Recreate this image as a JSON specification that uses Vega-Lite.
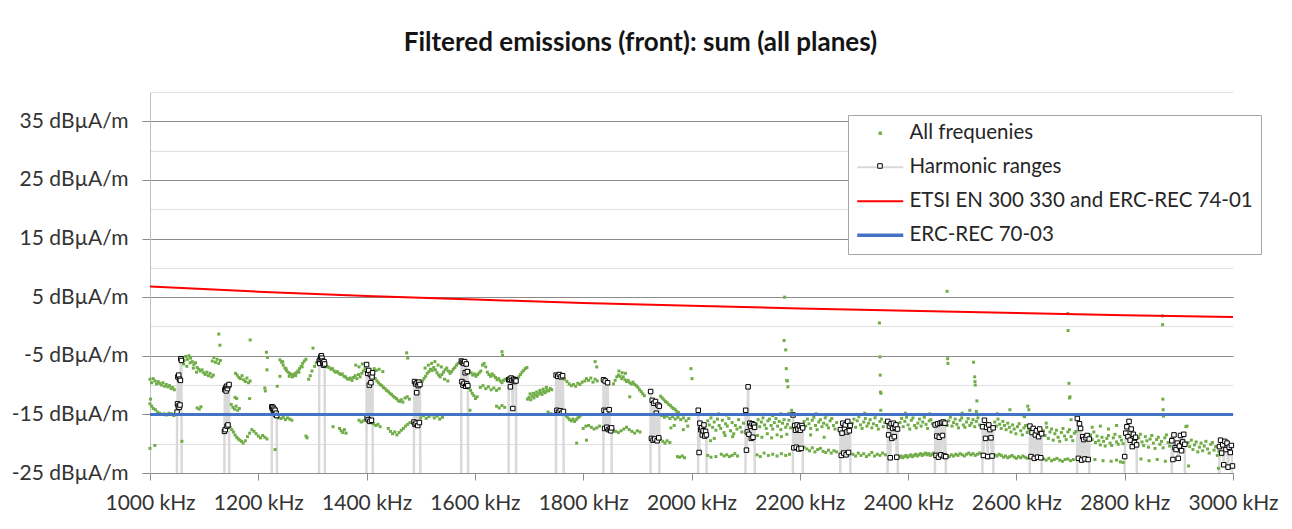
{
  "$schema": "https://vega.github.io/schema/vega-lite/v6.json",
  "width": 1083,
  "height": 381,
  "autosize": {"type": "none"},
  "padding": {"left": 150, "top": 92, "right": 59, "bottom": 56},
  "background": "#ffffff",
  "title": {
    "text": "Filtered emissions (front): sum (all planes)",
    "font": "Lato", "fontSize": 26, "fontWeight": "bold", "color": "#141414",
    "anchor": "middle", "frame": "group", "dx": -51, "offset": 15, "baseline": "alphabetic"
  },
  "config": {
    "view": {"stroke": null},
    "axis": {"labelFont": "Lato", "labelFontSize": 21, "labelColor": "#333333", "title": null}
  },
  "datasets": {
    "pts": [
      {"f":1000,"v":-9.0},{"f":1003,"v":-9.6},{"f":1006,"v":-8.9},{"f":1009,"v":-9.3},{"f":1012,"v":-9.8},{"f":1015,"v":-9.4},{"f":1018,"v":-9.7},{"f":1021,"v":-10.0},{"f":1024,"v":-9.6},{"f":1027,"v":-10.2},{"f":1030,"v":-9.9},{"f":1033,"v":-10.3},{"f":1036,"v":-10.1},{"f":1039,"v":-10.6},{"f":1042,"v":-10.4},{"f":1045,"v":-10.8},
      {"f":1000,"v":-13.2},{"f":1003,"v":-13.6},{"f":1006,"v":-14.0},{"f":1010,"v":-14.2},{"f":1014,"v":-14.6},{"f":1018,"v":-14.8},{"f":1022,"v":-15.0},{"f":1026,"v":-14.9},{"f":1030,"v":-15.1},{"f":1035,"v":-14.8},{"f":1040,"v":-14.9},{"f":1044,"v":-15.2},
      {"f":1000,"v":-20.8},{"f":1009,"v":-20.3},{"f":1001,"v":-12.4},
      {"f":1060,"v":-5.3},{"f":1063,"v":-5.8},{"f":1066,"v":-5.1},{"f":1069,"v":-5.6},{"f":1072,"v":-5.0},{"f":1075,"v":-5.4},{"f":1078,"v":-6.0},{"f":1081,"v":-6.5},{"f":1084,"v":-6.2},{"f":1087,"v":-7.0},{"f":1090,"v":-7.3},{"f":1093,"v":-7.6},{"f":1096,"v":-7.4},{"f":1099,"v":-7.9},{"f":1102,"v":-8.2},{"f":1105,"v":-7.8},{"f":1108,"v":-8.4},{"f":1111,"v":-8.0},{"f":1114,"v":-8.6},{"f":1117,"v":-8.3},
      {"f":1062,"v":-6.4},{"f":1068,"v":-6.8},{"f":1074,"v":-6.2},{"f":1080,"v":-7.1},{"f":1086,"v":-7.8},
      {"f":1115,"v":-5.9},{"f":1118,"v":-5.3},{"f":1121,"v":-6.1},{"f":1124,"v":-5.6},{"f":1127,"v":-6.3},{"f":1130,"v":-5.8},
      {"f":1127,"v":-1.3},{"f":1129,"v":-3.2},{"f":1059,"v":-19.6},{"f":1087,"v":-13.9},{"f":1091,"v":-14.1},{"f":1094,"v":-13.7},
      {"f":1158,"v":-8.0},{"f":1161,"v":-8.3},{"f":1164,"v":-8.7},{"f":1167,"v":-8.9},{"f":1170,"v":-8.4},{"f":1173,"v":-9.1},{"f":1176,"v":-9.4},{"f":1179,"v":-8.8},{"f":1182,"v":-9.6},{"f":1185,"v":-9.3},
      {"f":1150,"v":-13.3},{"f":1153,"v":-13.8},{"f":1156,"v":-14.1},{"f":1159,"v":-13.6},{"f":1162,"v":-14.3},{"f":1165,"v":-14.0},{"f":1160,"v":-12.3},{"f":1157,"v":-12.1},
      {"f":1148,"v":-17.2},{"f":1151,"v":-17.6},{"f":1154,"v":-18.0},{"f":1157,"v":-18.5},{"f":1160,"v":-18.9},{"f":1163,"v":-19.2},{"f":1166,"v":-19.4},{"f":1169,"v":-19.6},{"f":1172,"v":-19.9},{"f":1176,"v":-19.5},{"f":1180,"v":-18.8},{"f":1184,"v":-18.2},{"f":1188,"v":-17.6},{"f":1192,"v":-17.9},{"f":1196,"v":-18.3},{"f":1200,"v":-18.7},{"f":1204,"v":-19.0},{"f":1208,"v":-18.6},{"f":1212,"v":-18.9},{"f":1216,"v":-19.2},
      {"f":1185,"v":-2.3},{"f":1184,"v":-12.3},{"f":1215,"v":-4.4},{"f":1217,"v":-5.3},{"f":1216,"v":-7.4},{"f":1212,"v":-10.5},{"f":1213,"v":-11.0},{"f":1231,"v":-21.0},
      {"f":1240,"v":-5.7},{"f":1243,"v":-6.1},{"f":1246,"v":-6.6},{"f":1249,"v":-7.1},{"f":1252,"v":-7.5},{"f":1255,"v":-7.8},{"f":1258,"v":-8.0},{"f":1261,"v":-8.2},{"f":1264,"v":-8.3},{"f":1267,"v":-8.1},{"f":1270,"v":-7.9},{"f":1273,"v":-7.6},{"f":1276,"v":-7.2},{"f":1279,"v":-6.8},{"f":1282,"v":-6.3},{"f":1285,"v":-5.9},{"f":1288,"v":-5.6},
      {"f":1245,"v":-6.0},{"f":1251,"v":-7.2},{"f":1257,"v":-8.5},{"f":1263,"v":-8.6},{"f":1269,"v":-8.4},{"f":1275,"v":-7.8},{"f":1281,"v":-6.9},
      {"f":1240,"v":-8.5},{"f":1235,"v":-10.2},
      {"f":1237,"v":-15.6},{"f":1242,"v":-15.7},{"f":1246,"v":-15.5},{"f":1250,"v":-15.9},{"f":1254,"v":-15.6},{"f":1258,"v":-15.8},{"f":1262,"v":-16.0},
      {"f":1288,"v":-18.7},{"f":1290,"v":-19.0},
      {"f":1293,"v":-9.0},{"f":1296,"v":-8.4},{"f":1299,"v":-7.6},{"f":1301,"v":-3.7},{"f":1304,"v":-6.8},{"f":1307,"v":-6.2},
      {"f":1325,"v":-6.6},{"f":1328,"v":-6.9},{"f":1331,"v":-7.0},{"f":1334,"v":-7.3},{"f":1337,"v":-7.2},{"f":1340,"v":-7.6},{"f":1343,"v":-7.8},{"f":1346,"v":-7.7},{"f":1349,"v":-8.0},{"f":1352,"v":-8.2},{"f":1355,"v":-8.1},{"f":1358,"v":-8.5},{"f":1361,"v":-8.6},{"f":1364,"v":-8.9},{"f":1367,"v":-9.0},{"f":1370,"v":-8.8},{"f":1373,"v":-9.2},{"f":1376,"v":-8.7},{"f":1379,"v":-8.4},{"f":1382,"v":-8.9},{"f":1385,"v":-8.2},{"f":1388,"v":-8.6},{"f":1391,"v":-8.0},{"f":1394,"v":-7.6},{"f":1397,"v":-7.2},
      {"f":1380,"v":-6.6},{"f":1386,"v":-6.9},{"f":1392,"v":-6.4},
      {"f":1350,"v":-17.4},{"f":1353,"v":-17.8},{"f":1356,"v":-18.1},{"f":1359,"v":-17.6},{"f":1362,"v":-18.2},{"f":1338,"v":-17.1},
      {"f":1386,"v":-16.0},{"f":1390,"v":-16.3},{"f":1394,"v":-16.1},
      {"f":1413,"v":-8.6},{"f":1416,"v":-8.9},{"f":1419,"v":-9.3},{"f":1422,"v":-9.6},{"f":1425,"v":-9.9},{"f":1428,"v":-10.1},{"f":1431,"v":-10.4},{"f":1434,"v":-10.6},{"f":1437,"v":-10.9},{"f":1440,"v":-11.1},{"f":1443,"v":-11.4},{"f":1446,"v":-11.6},{"f":1449,"v":-11.9},{"f":1452,"v":-12.1},{"f":1455,"v":-12.3},{"f":1458,"v":-12.6},{"f":1461,"v":-12.8},{"f":1464,"v":-12.5},{"f":1467,"v":-12.9},{"f":1471,"v":-12.2},{"f":1475,"v":-12.0},{"f":1479,"v":-12.4},
      {"f":1414,"v":-7.2},{"f":1418,"v":-7.5},{"f":1423,"v":-7.3},{"f":1430,"v":-7.7},
      {"f":1413,"v":-16.6},{"f":1417,"v":-16.9},{"f":1421,"v":-16.7},{"f":1425,"v":-17.1},{"f":1440,"v":-17.4},{"f":1444,"v":-17.9},{"f":1448,"v":-18.3},{"f":1452,"v":-18.0},{"f":1456,"v":-18.5},{"f":1460,"v":-18.1},{"f":1464,"v":-17.7},{"f":1468,"v":-17.4},{"f":1472,"v":-17.0},{"f":1476,"v":-16.7},{"f":1480,"v":-16.4},
      {"f":1474,"v":-4.5},{"f":1476,"v":-5.4},
      {"f":1500,"v":-9.8},{"f":1503,"v":-9.3},{"f":1506,"v":-8.9},{"f":1509,"v":-8.5},{"f":1512,"v":-8.0},{"f":1515,"v":-7.7},{"f":1518,"v":-7.3},{"f":1521,"v":-7.5},{"f":1524,"v":-7.0},{"f":1527,"v":-7.4},{"f":1530,"v":-7.9},{"f":1533,"v":-8.3},{"f":1536,"v":-8.6},{"f":1539,"v":-8.2},{"f":1542,"v":-7.8},{"f":1545,"v":-7.4},{"f":1548,"v":-7.1},{"f":1551,"v":-7.6},{"f":1554,"v":-8.0},{"f":1557,"v":-7.7},{"f":1560,"v":-7.3},{"f":1563,"v":-7.0},{"f":1566,"v":-6.6},{"f":1569,"v":-6.3},
      {"f":1508,"v":-7.1},{"f":1514,"v":-6.6},{"f":1520,"v":-6.3},{"f":1526,"v":-6.0},{"f":1532,"v":-6.6},{"f":1538,"v":-6.9},{"f":1544,"v":-9.0},{"f":1550,"v":-9.3},
      {"f":1500,"v":-15.6},{"f":1505,"v":-15.2},{"f":1510,"v":-15.7},{"f":1515,"v":-15.4},{"f":1520,"v":-15.1},{"f":1525,"v":-15.6},{"f":1530,"v":-15.3},{"f":1535,"v":-15.8},{"f":1540,"v":-15.5},
      {"f":1590,"v":-7.6},{"f":1593,"v":-7.9},{"f":1596,"v":-8.3},{"f":1599,"v":-8.1},{"f":1602,"v":-8.5},{"f":1605,"v":-8.2},{"f":1608,"v":-7.9},{"f":1611,"v":-7.6},{"f":1614,"v":-6.6},{"f":1617,"v":-6.3},{"f":1620,"v":-6.9},{"f":1623,"v":-7.8},{"f":1626,"v":-8.2},{"f":1629,"v":-8.5},{"f":1632,"v":-8.1},{"f":1635,"v":-8.4},{"f":1638,"v":-8.7},{"f":1641,"v":-9.1},{"f":1644,"v":-8.9},{"f":1647,"v":-9.3},{"f":1650,"v":-9.6},{"f":1653,"v":-9.2},{"f":1656,"v":-9.0},
      {"f":1589,"v":-10.5},{"f":1592,"v":-10.9},{"f":1595,"v":-11.4},{"f":1598,"v":-11.8},{"f":1601,"v":-12.3},{"f":1604,"v":-12.0},
      {"f":1610,"v":-10.4},{"f":1615,"v":-10.1},{"f":1620,"v":-10.6},{"f":1625,"v":-10.3},{"f":1630,"v":-10.8},{"f":1635,"v":-10.5},{"f":1640,"v":-10.9},{"f":1645,"v":-10.6},
      {"f":1640,"v":-13.6},{"f":1645,"v":-13.9},{"f":1650,"v":-13.5},{"f":1655,"v":-13.8},
      {"f":1591,"v":-14.3},{"f":1650,"v":-4.3},{"f":1651,"v":-4.9},
      {"f":1678,"v":-8.9},{"f":1681,"v":-8.6},{"f":1684,"v":-8.2},{"f":1687,"v":-7.8},{"f":1690,"v":-7.5},{"f":1693,"v":-7.2},{"f":1696,"v":-7.0},
      {"f":1697,"v":-12.4},{"f":1700,"v":-12.1},{"f":1703,"v":-12.5},{"f":1706,"v":-11.9},{"f":1709,"v":-12.2},{"f":1712,"v":-11.7},{"f":1715,"v":-11.9},{"f":1718,"v":-11.5},{"f":1721,"v":-11.3},{"f":1724,"v":-11.6},{"f":1727,"v":-11.1},{"f":1730,"v":-11.3},{"f":1733,"v":-10.9},{"f":1736,"v":-11.0},{"f":1739,"v":-10.6},{"f":1742,"v":-10.8},
      {"f":1702,"v":-11.5},{"f":1708,"v":-11.4},{"f":1714,"v":-11.2},{"f":1720,"v":-10.9},{"f":1726,"v":-10.7},{"f":1732,"v":-10.4},{"f":1735,"v":-14.6},{"f":1740,"v":-14.9},
      {"f":1766,"v":-14.9},{"f":1769,"v":-15.3},{"f":1772,"v":-15.6},{"f":1775,"v":-15.9},{"f":1778,"v":-16.1},{"f":1781,"v":-15.8},{"f":1784,"v":-16.2},{"f":1787,"v":-15.9},{"f":1790,"v":-15.6},{"f":1793,"v":-15.4},{"f":1796,"v":-15.1},
      {"f":1766,"v":-9.0},{"f":1770,"v":-9.4},{"f":1774,"v":-9.8},{"f":1778,"v":-10.1},{"f":1782,"v":-9.9},{"f":1786,"v":-10.2},{"f":1790,"v":-9.7},{"f":1794,"v":-9.9},{"f":1798,"v":-9.5},{"f":1803,"v":-9.3},{"f":1806,"v":-8.9},{"f":1810,"v":-9.2},{"f":1814,"v":-8.8},{"f":1818,"v":-9.5},{"f":1822,"v":-9.0},{"f":1826,"v":-9.3},
      {"f":1788,"v":-19.9},{"f":1806,"v":-19.4},{"f":1822,"v":-6.0},{"f":1825,"v":-6.9},
      {"f":1800,"v":-17.4},{"f":1805,"v":-17.0},{"f":1810,"v":-16.9},{"f":1815,"v":-17.2},{"f":1820,"v":-17.5},{"f":1825,"v":-17.3},{"f":1830,"v":-17.0},
      {"f":1856,"v":-9.8},{"f":1859,"v":-9.2},{"f":1862,"v":-8.6},{"f":1865,"v":-8.3},{"f":1868,"v":-8.5},{"f":1871,"v":-8.9},{"f":1874,"v":-8.6},{"f":1877,"v":-9.1},{"f":1880,"v":-9.4},{"f":1883,"v":-9.2},{"f":1886,"v":-9.6},{"f":1889,"v":-9.8},{"f":1892,"v":-9.5},{"f":1895,"v":-9.9},{"f":1898,"v":-10.1},
      {"f":1866,"v":-7.6},{"f":1872,"v":-7.9},{"f":1878,"v":-8.0},
      {"f":1901,"v":-10.4},{"f":1904,"v":-10.8},{"f":1907,"v":-11.1},{"f":1910,"v":-11.5},{"f":1913,"v":-11.8},
      {"f":1856,"v":-17.7},{"f":1860,"v":-17.9},{"f":1865,"v":-18.1},{"f":1870,"v":-17.8},{"f":1875,"v":-17.5},{"f":1880,"v":-17.2},{"f":1885,"v":-17.6},{"f":1890,"v":-17.9},{"f":1895,"v":-18.2},{"f":1900,"v":-17.8},
      {"f":1886,"v":-12.0},{"f":1905,"v":-18.0},
      {"f":1943,"v":-11.9},{"f":1946,"v":-12.2},{"f":1949,"v":-12.5},{"f":1952,"v":-12.8},{"f":1955,"v":-13.0},{"f":1958,"v":-13.3},{"f":1961,"v":-13.5},{"f":1964,"v":-13.8},{"f":1967,"v":-14.0},{"f":1970,"v":-14.2},{"f":1973,"v":-14.5},{"f":1976,"v":-14.7},
      {"f":1945,"v":-15.2},{"f":1950,"v":-15.5},{"f":1955,"v":-15.3},{"f":1960,"v":-15.7},{"f":1965,"v":-15.4},{"f":1970,"v":-15.8},{"f":1975,"v":-15.5},{"f":1980,"v":-15.9},{"f":1985,"v":-15.6},{"f":1990,"v":-16.1},{"f":1995,"v":-15.7},
      {"f":1943,"v":-19.2},{"f":1947,"v":-19.6},{"f":1951,"v":-19.9},{"f":1955,"v":-19.5},{"f":1960,"v":-19.8},
      {"f":1974,"v":-22.2},{"f":1978,"v":-22.3},{"f":1983,"v":-22.1},{"f":1987,"v":-22.4},
      {"f":1962,"v":-17.3},{"f":1968,"v":-16.9},{"f":1985,"v":-17.6},{"f":1993,"v":-17.0},
      {"f":1999,"v":-7.2},{"f":2001,"v":-8.9},
      {"f":2030,"v":-16.1},{"f":2033,"v":-16.8},{"f":2036,"v":-15.6},{"f":2039,"v":-17.2},{"f":2042,"v":-16.3},{"f":2045,"v":-17.7},{"f":2048,"v":-15.8},{"f":2051,"v":-16.9},{"f":2054,"v":-17.4},{"f":2057,"v":-16.0},{"f":2060,"v":-18.1},{"f":2063,"v":-16.6},{"f":2066,"v":-17.0},{"f":2069,"v":-15.7},{"f":2072,"v":-17.8},{"f":2075,"v":-16.4},{"f":2078,"v":-18.3},{"f":2081,"v":-16.9},{"f":2084,"v":-17.5},{"f":2087,"v":-15.9},{"f":2090,"v":-17.2},{"f":2093,"v":-18.0},{"f":2096,"v":-16.5},
      {"f":2035,"v":-15.0},{"f":2050,"v":-14.9},{"f":2065,"v":-15.1},
      {"f":2030,"v":-22.0},{"f":2036,"v":-22.3},{"f":2045,"v":-22.2},{"f":2055,"v":-21.8},{"f":2060,"v":-22.1},{"f":2065,"v":-21.9},{"f":2070,"v":-22.2},{"f":2075,"v":-22.0},{"f":2080,"v":-21.7},{"f":2085,"v":-22.1},
      {"f":2035,"v":-19.5},{"f":2042,"v":-19.1},{"f":2062,"v":-18.6},{"f":2076,"v":-18.8},
      {"f":2120,"v":-16.6},{"f":2123,"v":-15.9},{"f":2126,"v":-17.1},{"f":2129,"v":-16.3},{"f":2132,"v":-15.6},{"f":2135,"v":-16.8},{"f":2138,"v":-17.4},{"f":2141,"v":-16.1},{"f":2144,"v":-15.8},{"f":2147,"v":-16.9},{"f":2150,"v":-17.5},{"f":2153,"v":-16.4},{"f":2156,"v":-15.7},{"f":2159,"v":-17.0},{"f":2162,"v":-16.2},{"f":2165,"v":-17.6},{"f":2168,"v":-16.5},{"f":2171,"v":-15.9},{"f":2174,"v":-17.2},{"f":2177,"v":-16.7},{"f":2180,"v":-16.0},{"f":2183,"v":-17.3},
      {"f":2122,"v":-18.6},{"f":2130,"v":-18.9},{"f":2140,"v":-18.3},{"f":2148,"v":-19.0},{"f":2158,"v":-18.5},{"f":2166,"v":-18.8},{"f":2176,"v":-18.4},
      {"f":2121,"v":-21.9},{"f":2127,"v":-22.2},{"f":2134,"v":-21.6},{"f":2142,"v":-22.0},{"f":2150,"v":-21.8},{"f":2158,"v":-22.1},{"f":2166,"v":-21.7},{"f":2174,"v":-22.0},{"f":2181,"v":-21.8},
      {"f":2135,"v":-15.0},{"f":2150,"v":-15.2},{"f":2165,"v":-14.9},{"f":2180,"v":-14.8},
      {"f":2172,"v":5.0},{"f":2171,"v":-2.4},{"f":2174,"v":-4.0},{"f":2175,"v":-7.2},{"f":2176,"v":-9.2},{"f":2177,"v":-9.3},{"f":2178,"v":-10.3},{"f":2185,"v":-14.3},
      {"f":2208,"v":-16.2},{"f":2211,"v":-17.0},{"f":2214,"v":-15.8},{"f":2217,"v":-16.6},{"f":2220,"v":-17.4},{"f":2223,"v":-16.0},{"f":2226,"v":-15.5},{"f":2229,"v":-16.9},{"f":2232,"v":-17.6},{"f":2235,"v":-16.3},{"f":2238,"v":-15.9},{"f":2241,"v":-17.1},{"f":2244,"v":-16.5},{"f":2247,"v":-15.6},{"f":2250,"v":-16.8},{"f":2253,"v":-17.3},{"f":2256,"v":-16.1},{"f":2259,"v":-15.7},{"f":2262,"v":-16.9},{"f":2265,"v":-17.5},{"f":2268,"v":-16.4},
      {"f":2208,"v":-20.6},{"f":2213,"v":-20.9},{"f":2218,"v":-21.2},{"f":2223,"v":-20.7},{"f":2228,"v":-21.4},{"f":2233,"v":-21.0},{"f":2238,"v":-20.8},{"f":2243,"v":-21.3},{"f":2248,"v":-21.5},{"f":2253,"v":-21.1},{"f":2258,"v":-21.6},{"f":2263,"v":-21.2},{"f":2268,"v":-21.4},
      {"f":2215,"v":-15.0},{"f":2230,"v":-14.9},{"f":2250,"v":-15.1},{"f":2220,"v":-18.5},{"f":2245,"v":-18.9},
      {"f":2297,"v":-16.5},{"f":2300,"v":-15.8},{"f":2303,"v":-17.2},{"f":2306,"v":-16.1},{"f":2309,"v":-15.4},{"f":2312,"v":-16.8},{"f":2315,"v":-17.4},{"f":2318,"v":-16.3},{"f":2321,"v":-15.7},{"f":2324,"v":-17.0},{"f":2327,"v":-16.5},{"f":2330,"v":-15.9},{"f":2333,"v":-17.3},{"f":2336,"v":-16.6},{"f":2339,"v":-15.6},{"f":2342,"v":-16.9},{"f":2345,"v":-17.5},{"f":2348,"v":-16.2},{"f":2351,"v":-15.8},{"f":2354,"v":-17.1},{"f":2357,"v":-16.4},
      {"f":2298,"v":-21.8},{"f":2303,"v":-22.1},{"f":2308,"v":-21.6},{"f":2313,"v":-22.0},{"f":2318,"v":-21.7},{"f":2323,"v":-22.2},{"f":2328,"v":-21.9},{"f":2333,"v":-21.5},{"f":2338,"v":-22.1},{"f":2343,"v":-21.8},{"f":2348,"v":-22.0},{"f":2353,"v":-21.6},{"f":2358,"v":-21.9},
      {"f":2305,"v":-15.0},{"f":2320,"v":-14.8},{"f":2340,"v":-15.1},
      {"f":2347,"v":0.6},{"f":2348,"v":-5.2},{"f":2348.5,"v":-8.3},{"f":2349,"v":-11.2},{"f":2350,"v":-11.4},{"f":2349.5,"v":-14.3},
      {"f":2385,"v":-16.4},{"f":2388,"v":-15.7},{"f":2391,"v":-17.1},{"f":2394,"v":-16.2},{"f":2397,"v":-15.5},{"f":2400,"v":-16.8},{"f":2403,"v":-17.5},{"f":2406,"v":-16.0},{"f":2409,"v":-15.6},{"f":2412,"v":-16.9},{"f":2415,"v":-17.3},{"f":2418,"v":-16.5},{"f":2421,"v":-15.8},{"f":2424,"v":-17.0},{"f":2427,"v":-16.3},{"f":2430,"v":-15.5},{"f":2433,"v":-16.7},{"f":2436,"v":-17.4},{"f":2439,"v":-16.1},{"f":2442,"v":-15.9},{"f":2445,"v":-16.6},
      {"f":2384,"v":-22.3},{"f":2387,"v":-22.1},{"f":2390,"v":-22.4},{"f":2393,"v":-22.2},{"f":2396,"v":-22.0},{"f":2399,"v":-22.3},{"f":2402,"v":-22.1},{"f":2405,"v":-21.9},{"f":2408,"v":-22.2},{"f":2411,"v":-22.0},{"f":2414,"v":-21.8},{"f":2417,"v":-22.1},{"f":2420,"v":-21.9},{"f":2423,"v":-21.7},{"f":2426,"v":-22.0},{"f":2429,"v":-21.8},{"f":2432,"v":-21.6},{"f":2435,"v":-21.9},{"f":2438,"v":-21.7},{"f":2441,"v":-22.0},{"f":2444,"v":-21.8},{"f":2447,"v":-21.6},
      {"f":2395,"v":-14.8},{"f":2420,"v":-15.0},{"f":2440,"v":-14.9},
      {"f":2472,"v":-16.9},{"f":2475,"v":-16.1},{"f":2478,"v":-15.5},{"f":2481,"v":-17.0},{"f":2484,"v":-16.4},{"f":2487,"v":-15.8},{"f":2490,"v":-16.7},{"f":2493,"v":-17.3},{"f":2496,"v":-16.0},{"f":2499,"v":-15.6},{"f":2502,"v":-16.8},{"f":2505,"v":-17.2},{"f":2508,"v":-16.3},{"f":2511,"v":-15.7},{"f":2514,"v":-16.9},{"f":2517,"v":-16.5},{"f":2520,"v":-15.9},{"f":2523,"v":-17.1},{"f":2526,"v":-16.2},{"f":2529,"v":-15.6},{"f":2532,"v":-16.8},
      {"f":2472,"v":-22.0},{"f":2476,"v":-22.2},{"f":2480,"v":-21.9},{"f":2484,"v":-22.1},{"f":2488,"v":-21.8},{"f":2492,"v":-22.0},{"f":2496,"v":-21.7},{"f":2500,"v":-21.9},{"f":2504,"v":-22.1},{"f":2508,"v":-21.8},{"f":2512,"v":-21.6},{"f":2516,"v":-21.9},{"f":2520,"v":-21.7},{"f":2524,"v":-22.0},{"f":2528,"v":-21.8},{"f":2532,"v":-21.6},
      {"f":2480,"v":-15.0},{"f":2500,"v":-14.8},{"f":2514,"v":-14.3},{"f":2526,"v":-14.5},
      {"f":2472,"v":6.0},{"f":2473,"v":-5.5},{"f":2473.5,"v":-6.3},{"f":2521,"v":-6.1},{"f":2523,"v":-8.6},{"f":2523.5,"v":-9.4},{"f":2524,"v":-10.0},{"f":2527,"v":-12.7},
      {"f":2560,"v":-16.3},{"f":2563,"v":-17.0},{"f":2566,"v":-15.8},{"f":2569,"v":-16.7},{"f":2572,"v":-17.4},{"f":2575,"v":-16.2},{"f":2578,"v":-16.9},{"f":2581,"v":-17.6},{"f":2584,"v":-16.5},{"f":2587,"v":-17.2},{"f":2590,"v":-18.0},{"f":2593,"v":-16.8},{"f":2596,"v":-17.5},{"f":2599,"v":-18.3},{"f":2602,"v":-17.1},{"f":2605,"v":-16.6},{"f":2608,"v":-17.8},{"f":2611,"v":-18.5},{"f":2614,"v":-17.3},{"f":2617,"v":-16.9},{"f":2620,"v":-18.1},{"f":2623,"v":-17.6},
      {"f":2560,"v":-21.9},{"f":2564,"v":-22.1},{"f":2568,"v":-21.8},{"f":2572,"v":-22.0},{"f":2576,"v":-22.3},{"f":2580,"v":-22.1},{"f":2584,"v":-22.4},{"f":2588,"v":-22.2},{"f":2592,"v":-22.0},{"f":2596,"v":-22.3},{"f":2600,"v":-22.5},{"f":2604,"v":-22.2},{"f":2608,"v":-22.4},{"f":2612,"v":-22.1},{"f":2616,"v":-22.3},{"f":2620,"v":-22.5},
      {"f":2565,"v":-14.9},{"f":2588,"v":-14.2},{"f":2612,"v":-15.1},{"f":2615,"v":-15.4},{"f":2621,"v":-13.6},{"f":2623,"v":-14.2},
      {"f":2650,"v":-17.8},{"f":2653,"v":-18.6},{"f":2656,"v":-17.2},{"f":2659,"v":-19.1},{"f":2662,"v":-18.0},{"f":2665,"v":-17.5},{"f":2668,"v":-19.4},{"f":2671,"v":-18.3},{"f":2674,"v":-17.7},{"f":2677,"v":-18.9},{"f":2680,"v":-19.6},{"f":2683,"v":-18.1},{"f":2686,"v":-17.4},{"f":2689,"v":-18.7},{"f":2692,"v":-19.3},{"f":2695,"v":-18.0},{"f":2698,"v":-17.6},{"f":2701,"v":-18.8},{"f":2704,"v":-19.5},{"f":2707,"v":-18.2},{"f":2710,"v":-17.9},
      {"f":2650,"v":-22.6},{"f":2655,"v":-22.8},{"f":2660,"v":-22.5},{"f":2665,"v":-22.9},{"f":2670,"v":-22.7},{"f":2675,"v":-22.5},{"f":2680,"v":-22.8},{"f":2685,"v":-23.0},{"f":2690,"v":-22.7},{"f":2695,"v":-22.6},{"f":2700,"v":-22.9},{"f":2705,"v":-22.7},
      {"f":2701,"v":-15.9},{"f":2655,"v":-16.5},
      {"f":2695,"v":2.2},{"f":2695.5,"v":-0.7},{"f":2697,"v":-9.7},{"f":2699,"v":-12.0},{"f":2698,"v":-12.2},
      {"f":2737,"v":-18.5},{"f":2740,"v":-19.3},{"f":2743,"v":-18.0},{"f":2746,"v":-19.8},{"f":2749,"v":-18.7},{"f":2752,"v":-19.5},{"f":2755,"v":-20.2},{"f":2758,"v":-18.9},{"f":2761,"v":-19.6},{"f":2764,"v":-20.4},{"f":2767,"v":-19.1},{"f":2770,"v":-18.6},{"f":2773,"v":-19.9},{"f":2776,"v":-20.3},{"f":2779,"v":-19.0},{"f":2782,"v":-18.4},{"f":2785,"v":-19.7},{"f":2788,"v":-20.1},{"f":2791,"v":-18.8},{"f":2794,"v":-19.4},{"f":2797,"v":-20.0},
      {"f":2740,"v":-17.2},{"f":2755,"v":-17.0},{"f":2770,"v":-17.5},{"f":2785,"v":-16.9},
      {"f":2745,"v":-22.7},{"f":2760,"v":-22.9},{"f":2775,"v":-23.0},{"f":2785,"v":-22.8},{"f":2792,"v":-23.1},{"f":2797,"v":-23.2},
      {"f":2826,"v":-19.0},{"f":2829,"v":-18.4},{"f":2832,"v":-19.7},{"f":2835,"v":-20.3},{"f":2838,"v":-18.8},{"f":2841,"v":-19.5},{"f":2844,"v":-20.6},{"f":2847,"v":-19.2},{"f":2850,"v":-18.6},{"f":2853,"v":-19.9},{"f":2856,"v":-20.8},{"f":2859,"v":-19.3},{"f":2862,"v":-18.9},{"f":2865,"v":-20.1},{"f":2868,"v":-19.6},{"f":2871,"v":-20.7},{"f":2874,"v":-19.0},{"f":2877,"v":-18.5},{"f":2880,"v":-19.8},{"f":2883,"v":-20.4},{"f":2886,"v":-19.1},
      {"f":2830,"v":-22.6},{"f":2845,"v":-22.9},{"f":2860,"v":-22.7},{"f":2875,"v":-23.0},
      {"f":2869.5,"v":1.8},{"f":2870,"v":0.3},{"f":2870.5,"v":-12.4},{"f":2871,"v":-14.2},{"f":2871.5,"v":-15.3},
      {"f":2913,"v":-17.1},{"f":2915,"v":-17.0},{"f":2917,"v":-19.8},{"f":2920,"v":-20.5},{"f":2923,"v":-19.4},{"f":2926,"v":-21.0},{"f":2929,"v":-20.2},{"f":2932,"v":-19.7},{"f":2935,"v":-21.4},{"f":2938,"v":-20.6},{"f":2941,"v":-19.9},{"f":2944,"v":-21.2},{"f":2947,"v":-20.4},{"f":2950,"v":-19.6},{"f":2953,"v":-20.9},{"f":2956,"v":-21.6},{"f":2959,"v":-20.1},{"f":2962,"v":-19.8},{"f":2965,"v":-21.1},{"f":2968,"v":-20.5},{"f":2971,"v":-22.0},{"f":2974,"v":-21.3},
      {"f":2918,"v":-23.8},{"f":2973,"v":-24.2}
    ],
    "harm": [
      {"h":12,"f":1049.6,"v":-40},{"h":12,"f":1050,"v":-14.6},{"h":12,"f":1050.8,"v":-13.2},{"h":12,"f":1051.5,"v":-8.6},{"h":12,"f":1052.2,"v":-13.6},{"h":12,"f":1053,"v":-8.3},{"h":12,"f":1053.8,"v":-13.8},{"h":12,"f":1054.6,"v":-9.0},{"h":12,"f":1055.4,"v":-13.4},{"h":12,"f":1056.2,"v":-9.2},{"h":12,"f":1057,"v":-5.5},{"h":12,"f":1058,"v":-5.8},{"h":12,"f":1058.8,"v":-40},
      {"h":13,"f":1137.3,"v":-40},{"h":13,"f":1137.5,"v":-17.9},{"h":13,"f":1138.3,"v":-10.8},{"h":13,"f":1139,"v":-17.6},{"h":13,"f":1139.8,"v":-10.5},{"h":13,"f":1140.6,"v":-11.0},{"h":13,"f":1141.4,"v":-10.2},{"h":13,"f":1142.2,"v":-17.0},{"h":13,"f":1143,"v":-10.6},{"h":13,"f":1144,"v":-16.8},{"h":13,"f":1145,"v":-10.1},{"h":13,"f":1146,"v":-9.9},{"h":13,"f":1146.7,"v":-40},
      {"h":14,"f":1224.6,"v":-40},{"h":14,"f":1225,"v":-13.7},{"h":14,"f":1226,"v":-14.0},{"h":14,"f":1227,"v":-13.8},{"h":14,"f":1228,"v":-14.4},{"h":14,"f":1229,"v":-14.1},{"h":14,"f":1230,"v":-14.6},{"h":14,"f":1231,"v":-14.3},{"h":14,"f":1232,"v":-15.0},{"h":14,"f":1233,"v":-14.8},{"h":14,"f":1234,"v":-15.2},{"h":14,"f":1235.3,"v":-40},
      {"h":15,"f":1312,"v":-40},{"h":15,"f":1312.5,"v":-5.9},{"h":15,"f":1313.5,"v":-6.3},{"h":15,"f":1314.5,"v":-5.6},{"h":15,"f":1315.5,"v":-5.2},{"h":15,"f":1316.5,"v":-5.0},{"h":15,"f":1317.5,"v":-5.4},{"h":15,"f":1318.5,"v":-5.9},{"h":15,"f":1319.5,"v":-6.2},{"h":15,"f":1320.5,"v":-6.6},{"h":15,"f":1321.5,"v":-6.0},{"h":15,"f":1322.5,"v":-6.4},{"h":15,"f":1323.5,"v":-40},
      {"h":16,"f":1399.5,"v":-40},{"h":16,"f":1400,"v":-6.5},{"h":16,"f":1401,"v":-15.6},{"h":16,"f":1402,"v":-8.0},{"h":16,"f":1403,"v":-15.9},{"h":16,"f":1404,"v":-7.5},{"h":16,"f":1405,"v":-10.0},{"h":16,"f":1406,"v":-16.2},{"h":16,"f":1407,"v":-8.2},{"h":16,"f":1408,"v":-9.6},{"h":16,"f":1409,"v":-16.0},{"h":16,"f":1410,"v":-8.6},{"h":16,"f":1411,"v":-7.9},{"h":16,"f":1411.7,"v":-40},
      {"h":17,"f":1487,"v":-40},{"h":17,"f":1487.5,"v":-16.3},{"h":17,"f":1488.5,"v":-9.4},{"h":17,"f":1489.5,"v":-16.7},{"h":17,"f":1490.5,"v":-9.8},{"h":17,"f":1491.5,"v":-16.5},{"h":17,"f":1492.5,"v":-11.3},{"h":17,"f":1493.5,"v":-9.6},{"h":17,"f":1494.5,"v":-16.9},{"h":17,"f":1495.5,"v":-10.1},{"h":17,"f":1496.5,"v":-9.5},{"h":17,"f":1497.5,"v":-16.4},{"h":17,"f":1498.5,"v":-9.9},{"h":17,"f":1500,"v":-40},
      {"h":18,"f":1574.5,"v":-40},{"h":18,"f":1575,"v":-5.9},{"h":18,"f":1576,"v":-9.4},{"h":18,"f":1577,"v":-6.1},{"h":18,"f":1578,"v":-10.0},{"h":18,"f":1579,"v":-6.3},{"h":18,"f":1580,"v":-9.7},{"h":18,"f":1581,"v":-6.0},{"h":18,"f":1582,"v":-7.9},{"h":18,"f":1583,"v":-10.2},{"h":18,"f":1584,"v":-6.4},{"h":18,"f":1585,"v":-9.8},{"h":18,"f":1586,"v":-7.7},{"h":18,"f":1587,"v":-10.1},{"h":18,"f":1588,"v":-40},
      {"h":19,"f":1662,"v":-40},{"h":19,"f":1662.5,"v":-9.1},{"h":19,"f":1664,"v":-9.0},{"h":19,"f":1665.5,"v":-10.3},{"h":19,"f":1667,"v":-8.8},{"h":19,"f":1668.5,"v":-9.2},{"h":19,"f":1670,"v":-14.0},{"h":19,"f":1671.5,"v":-9.0},{"h":19,"f":1673,"v":-9.4},{"h":19,"f":1674.5,"v":-9.1},{"h":19,"f":1676,"v":-9.3},{"h":19,"f":1676.4,"v":-40},
      {"h":20,"f":1749.4,"v":-40},{"h":20,"f":1750,"v":-8.3},{"h":20,"f":1751.5,"v":-14.3},{"h":20,"f":1753,"v":-8.5},{"h":20,"f":1754.5,"v":-14.6},{"h":20,"f":1756,"v":-8.2},{"h":20,"f":1757.5,"v":-14.4},{"h":20,"f":1759,"v":-8.6},{"h":20,"f":1760.5,"v":-14.8},{"h":20,"f":1762,"v":-8.4},{"h":20,"f":1763.5,"v":-14.5},{"h":20,"f":1764.6,"v":-40},
      {"h":21,"f":1837,"v":-40},{"h":21,"f":1837.5,"v":-9.1},{"h":21,"f":1838.5,"v":-14.3},{"h":21,"f":1839.5,"v":-17.4},{"h":21,"f":1840.5,"v":-9.3},{"h":21,"f":1842,"v":-14.5},{"h":21,"f":1843.5,"v":-17.2},{"h":21,"f":1845,"v":-9.6},{"h":21,"f":1846.5,"v":-17.6},{"h":21,"f":1848,"v":-14.2},{"h":21,"f":1849.5,"v":-17.5},{"h":21,"f":1851,"v":-17.8},{"h":21,"f":1852.5,"v":-17.3},{"h":21,"f":1853,"v":-40},
      {"h":22,"f":1924,"v":-40},{"h":22,"f":1924.5,"v":-11.1},{"h":22,"f":1926,"v":-19.1},{"h":22,"f":1927.5,"v":-12.6},{"h":22,"f":1929,"v":-19.4},{"h":22,"f":1930.5,"v":-13.1},{"h":22,"f":1932,"v":-19.2},{"h":22,"f":1933.5,"v":-12.8},{"h":22,"f":1935,"v":-14.8},{"h":22,"f":1936.5,"v":-19.5},{"h":22,"f":1938,"v":-13.4},{"h":22,"f":1939.5,"v":-19.0},{"h":22,"f":1940.5,"v":-13.6},{"h":22,"f":1941,"v":-40},
      {"h":23,"f":2012,"v":-40},{"h":23,"f":2012.5,"v":-14.3},{"h":23,"f":2014,"v":-21.5},{"h":23,"f":2015.5,"v":-16.5},{"h":23,"f":2017,"v":-17.6},{"h":23,"f":2018.5,"v":-17.3},{"h":23,"f":2020,"v":-18.5},{"h":23,"f":2021.5,"v":-17.8},{"h":23,"f":2023,"v":-16.8},{"h":23,"f":2024.5,"v":-18.7},{"h":23,"f":2026,"v":-17.9},{"h":23,"f":2027.5,"v":-18.5},{"h":23,"f":2029,"v":-40},
      {"h":24,"f":2099.3,"v":-40},{"h":24,"f":2100,"v":-14.3},{"h":24,"f":2101.5,"v":-21.1},{"h":24,"f":2103,"v":-18.0},{"h":24,"f":2104.5,"v":-10.3},{"h":24,"f":2106,"v":-18.4},{"h":24,"f":2107.5,"v":-16.5},{"h":24,"f":2109,"v":-17.0},{"h":24,"f":2110.5,"v":-19.1},{"h":24,"f":2112,"v":-16.6},{"h":24,"f":2113.5,"v":-18.9},{"h":24,"f":2115,"v":-16.8},{"h":24,"f":2116.5,"v":-17.2},{"h":24,"f":2117.5,"v":-40},
      {"h":25,"f":2186.8,"v":-40},{"h":25,"f":2187.5,"v":-15.1},{"h":25,"f":2189,"v":-20.7},{"h":25,"f":2190.5,"v":-16.9},{"h":25,"f":2192,"v":-17.7},{"h":25,"f":2193.5,"v":-20.6},{"h":25,"f":2195,"v":-16.8},{"h":25,"f":2196.5,"v":-17.5},{"h":25,"f":2198,"v":-20.9},{"h":25,"f":2199.5,"v":-17.0},{"h":25,"f":2201,"v":-17.7},{"h":25,"f":2202.5,"v":-20.8},{"h":25,"f":2204,"v":-16.9},{"h":25,"f":2205.3,"v":-17.3},{"h":25,"f":2205.8,"v":-40},
      {"h":26,"f":2274.2,"v":-40},{"h":26,"f":2275,"v":-17.6},{"h":26,"f":2276.5,"v":-22.0},{"h":26,"f":2278,"v":-18.2},{"h":26,"f":2279.5,"v":-16.5},{"h":26,"f":2281,"v":-21.6},{"h":26,"f":2282.5,"v":-17.4},{"h":26,"f":2284,"v":-16.8},{"h":26,"f":2285.5,"v":-21.9},{"h":26,"f":2287,"v":-18.0},{"h":26,"f":2288.5,"v":-16.2},{"h":26,"f":2290,"v":-21.5},{"h":26,"f":2291.5,"v":-17.8},{"h":26,"f":2293,"v":-16.9},{"h":26,"f":2294,"v":-40},
      {"h":27,"f":2361.7,"v":-40},{"h":27,"f":2362.5,"v":-16.2},{"h":27,"f":2364,"v":-18.5},{"h":27,"f":2365.5,"v":-17.0},{"h":27,"f":2367,"v":-22.4},{"h":27,"f":2368.5,"v":-16.6},{"h":27,"f":2370,"v":-19.1},{"h":27,"f":2371.5,"v":-17.4},{"h":27,"f":2373,"v":-16.5},{"h":27,"f":2374.5,"v":-18.8},{"h":27,"f":2376,"v":-17.2},{"h":27,"f":2377.5,"v":-16.8},{"h":27,"f":2379,"v":-22.3},{"h":27,"f":2380.5,"v":-17.5},{"h":27,"f":2382.3,"v":-40},
      {"h":28,"f":2449,"v":-40},{"h":28,"f":2450,"v":-16.8},{"h":28,"f":2451.5,"v":-22.0},{"h":28,"f":2453,"v":-18.7},{"h":28,"f":2454.5,"v":-16.6},{"h":28,"f":2456,"v":-22.3},{"h":28,"f":2457.5,"v":-18.9},{"h":28,"f":2459,"v":-16.5},{"h":28,"f":2460.5,"v":-21.9},{"h":28,"f":2462,"v":-16.4},{"h":28,"f":2463.5,"v":-18.6},{"h":28,"f":2465,"v":-16.3},{"h":28,"f":2466.5,"v":-22.1},{"h":28,"f":2468,"v":-16.5},{"h":28,"f":2469.5,"v":-22.2},{"h":28,"f":2470.4,"v":-40},
      {"h":29,"f":2536.6,"v":-40},{"h":29,"f":2537.5,"v":-17.1},{"h":29,"f":2539,"v":-22.0},{"h":29,"f":2541,"v":-16.0},{"h":29,"f":2543,"v":-19.1},{"h":29,"f":2545,"v":-17.2},{"h":29,"f":2547,"v":-22.2},{"h":29,"f":2549,"v":-16.8},{"h":29,"f":2551,"v":-17.6},{"h":29,"f":2553,"v":-19.0},{"h":29,"f":2555,"v":-22.1},{"h":29,"f":2557,"v":-17.3},{"h":29,"f":2558.6,"v":-40},
      {"h":30,"f":2624,"v":-40},{"h":30,"f":2625,"v":-17.0},{"h":30,"f":2627,"v":-22.2},{"h":30,"f":2629,"v":-18.1},{"h":30,"f":2631,"v":-17.4},{"h":30,"f":2633,"v":-22.5},{"h":30,"f":2635,"v":-18.5},{"h":30,"f":2637,"v":-17.8},{"h":30,"f":2639,"v":-22.3},{"h":30,"f":2641,"v":-18.8},{"h":30,"f":2643,"v":-17.5},{"h":30,"f":2645,"v":-22.4},{"h":30,"f":2646.5,"v":-18.3},{"h":30,"f":2647,"v":-40},
      {"h":31,"f":2711.6,"v":-40},{"h":31,"f":2712.5,"v":-15.7},{"h":31,"f":2714.5,"v":-22.5},{"h":31,"f":2716.5,"v":-16.6},{"h":31,"f":2718.5,"v":-17.4},{"h":31,"f":2720.5,"v":-22.8},{"h":31,"f":2722.5,"v":-18.8},{"h":31,"f":2724.5,"v":-19.3},{"h":31,"f":2726.5,"v":-22.6},{"h":31,"f":2728.5,"v":-19.0},{"h":31,"f":2730.5,"v":-18.6},{"h":31,"f":2732.5,"v":-22.7},{"h":31,"f":2734.5,"v":-19.2},{"h":31,"f":2735.2,"v":-40},
      {"h":32,"f":2799,"v":-40},{"h":32,"f":2800,"v":-22.2},{"h":32,"f":2802,"v":-18.2},{"h":32,"f":2804,"v":-17.1},{"h":32,"f":2806,"v":-18.8},{"h":32,"f":2808,"v":-16.2},{"h":32,"f":2810,"v":-19.4},{"h":32,"f":2812,"v":-17.5},{"h":32,"f":2814,"v":-20.5},{"h":32,"f":2816,"v":-18.4},{"h":32,"f":2818,"v":-19.8},{"h":32,"f":2820,"v":-18.9},{"h":32,"f":2822,"v":-20.2},{"h":32,"f":2823.5,"v":-40},
      {"h":33,"f":2886.6,"v":-40},{"h":33,"f":2887,"v":-19.5},{"h":33,"f":2889,"v":-22.7},{"h":33,"f":2891,"v":-18.5},{"h":33,"f":2893,"v":-20.7},{"h":33,"f":2895,"v":-21.0},{"h":33,"f":2897,"v":-19.9},{"h":33,"f":2899,"v":-22.5},{"h":33,"f":2901,"v":-20.4},{"h":33,"f":2903,"v":-18.6},{"h":33,"f":2905,"v":-21.2},{"h":33,"f":2907,"v":-19.7},{"h":33,"f":2909,"v":-18.4},{"h":33,"f":2911,"v":-20.1},{"h":33,"f":2911.6,"v":-40},
      {"h":34,"f":2974,"v":-40},{"h":34,"f":2975,"v":-20.5},{"h":34,"f":2977,"v":-19.4},{"h":34,"f":2979,"v":-21.6},{"h":34,"f":2981,"v":-20.2},{"h":34,"f":2983,"v":-23.6},{"h":34,"f":2985,"v":-19.6},{"h":34,"f":2987,"v":-21.0},{"h":34,"f":2989,"v":-19.9},{"h":34,"f":2991,"v":-24.0},{"h":34,"f":2993,"v":-20.6},{"h":34,"f":2995,"v":-21.5},{"h":34,"f":2997,"v":-20.3},{"h":34,"f":2999,"v":-23.8},{"h":34,"f":3000,"v":-40}
    ],
    "etsi": [
      {"f":1000,"v":6.8},{"f":1200,"v":5.94},{"f":1400,"v":5.21},{"f":1600,"v":4.58},{"f":1800,"v":4.02},{"f":2000,"v":3.52},{"f":2200,"v":3.07},{"f":2400,"v":2.66},{"f":2600,"v":2.28},{"f":2800,"v":1.93},{"f":3000,"v":1.6}
    ],
    "erc": [
      {"f":1000,"v":-15},{"f":3000,"v":-15}
    ]
  },
  "encoding": {
    "x": {
      "field": "f", "type": "quantitative",
      "scale": {"domain": [1000, 3000], "nice": false, "zero": false},
      "axis": {
        "values": [1000, 1200, 1400, 1600, 1800, 2000, 2200, 2400, 2600, 2800, 3000],
        "labelExpr": "datum.value + ' kHz'",
        "grid": false, "domainColor": "#8c8c8c", "tickColor": "#8c8c8c",
        "tickSize": 7, "labelPadding": 12, "labelFlush": false, "labelOverlap": false
      }
    }
  },
  "layer": [
    {
      "data": {"name": "harm"},
      "mark": {"type": "line", "strokeWidth": 2.5, "clip": true},
      "encoding": {
        "y": {"field": "v", "type": "quantitative", "scale": {"domain": [-25, 40], "nice": false, "zero": false},
              "axis": {"values": [-25, -15, -5, 5, 15, 25, 35], "labelExpr": "datum.value + ' dBµA/m'",
                       "grid": true, "gridColor": "#8c8c8c", "domainColor": "#bfbfbf", "tickColor": "#8c8c8c",
                       "tickSize": 8, "labelPadding": 14}},
        "color": {
          "datum": "Harmonic ranges",
          "scale": {
            "domain": ["All frequenies", "Harmonic ranges", "ETSI EN 300 330 and ERC-REC 74-01", "ERC-REC 70-03"],
            "range": ["#70ad47", "#d9d9d9", "#ff0000", "#4472c4"]
          },
          "legend": {
            "orient": "none", "legendX": 698, "legendY": 23, "title": null,
            "padding": 8, "strokeColor": "#a6a6a6", "fillColor": "#ffffff", "cornerRadius": 0,
            "labelFont": "Lato", "labelFontSize": 20.5, "labelColor": "#262626", "labelLimit": 400,
            "symbolSize": 100, "symbolOffset": 14, "labelOffset": 19, "rowPadding": 13,
            "encode": {
              "symbols": {
                "update": {
                  "shape": {"signal": "datum.value === 'All frequenies' ? 'M-0.14,-0.14H0.14V0.14H-0.14Z' : 'M-4.6,0H4.6'"},
                  "size": {"value": 100},
                  "fill": {"signal": "datum.value === 'All frequenies' ? '#70ad47' : 'transparent'"},
                  "stroke": {"signal": "datum.value === 'All frequenies' ? 'transparent' : datum.value === 'Harmonic ranges' ? '#d9d9d9' : datum.value === 'ERC-REC 70-03' ? '#4472c4' : '#ff0000'"},
                  "strokeWidth": {"signal": "datum.value === 'ERC-REC 70-03' ? 3.5 : 2"},
                  "opacity": {"value": 1}
                }
              }
            }
          }
        },
        "detail": {"field": "h"}
      }
    },
    {
      "data": {"name": "pts"},
      "mark": {"type": "point", "shape": "square", "filled": true, "size": 9, "opacity": 1},
      "encoding": {
        "y": {"field": "v", "type": "quantitative",
              "axis": {"values": [-20, -10, 0, 10, 20, 30, 40], "grid": true, "gridColor": "#e0e0e0",
                       "labels": false, "ticks": false, "domain": false, "orient": "left"}},
        "color": {"datum": "All frequenies"}
      }
    },
    {
      "data": {"name": "harm"},
      "transform": [{"filter": "datum.v > -30"}],
      "mark": {"type": "point", "shape": "square", "filled": false, "fill": "#ffffff", "size": 20, "strokeWidth": 1, "opacity": 1},
      "encoding": {
        "y": {"field": "v", "type": "quantitative", "axis": null},
        "stroke": {
          "datum": "Harmonic ranges",
          "scale": {"range": ["#000000"]},
          "legend": {
            "orient": "none", "legendX": 727, "legendY": 71, "title": null, "padding": 0,
            "labelExpr": "''", "labelFontSize": 1, "symbolType": "square", "symbolSize": 20,
            "symbolFillColor": "#ffffff", "symbolStrokeWidth": 1, "zindex": 2
          }
        }
      }
    },
    {
      "data": {"name": "etsi"},
      "mark": {"type": "line", "strokeWidth": 2},
      "encoding": {
        "y": {"field": "v", "type": "quantitative", "axis": null},
        "color": {"datum": "ETSI EN 300 330 and ERC-REC 74-01"}
      }
    },
    {
      "data": {"name": "erc"},
      "mark": {"type": "line", "strokeWidth": 3},
      "encoding": {
        "y": {"field": "v", "type": "quantitative", "axis": null},
        "color": {"datum": "ERC-REC 70-03"}
      }
    }
  ],
  "resolve": {"axis": {"y": "independent"}}
}
